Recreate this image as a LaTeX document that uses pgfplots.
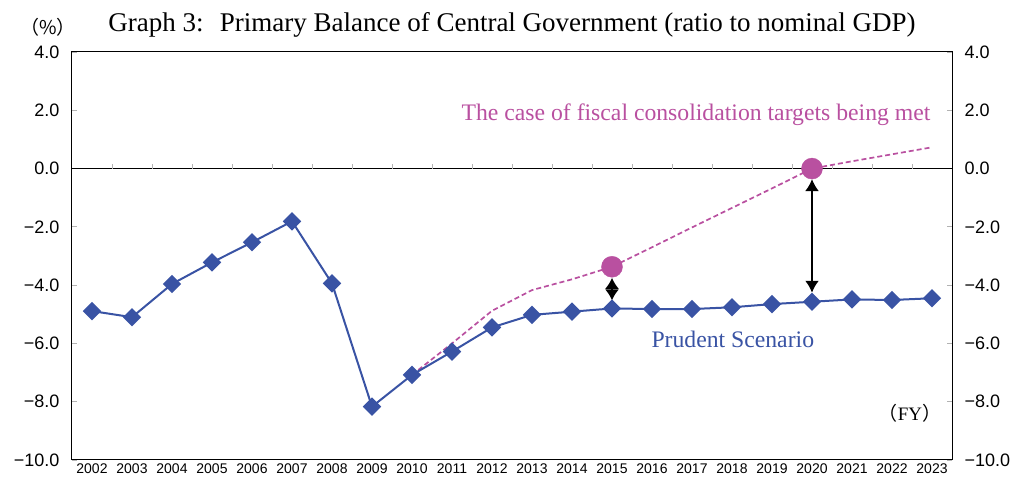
\documentclass[border=0pt]{standalone}
\usepackage{fontspec}
\setmainfont{Liberation Serif}
\newfontfamily\sans{Liberation Sans}
\newfontfamily\cjk{Noto Sans CJK JP}
\usepackage{pgfplots}
\usepackage{pgfplotstable}
\pgfplotsset{compat=1.18}
\usetikzlibrary{arrows.meta}

\definecolor{pblue}{RGB}{57,83,164}
\definecolor{pmag}{RGB}{185,80,160}

% prudent scenario
\pgfplotstableread{
year pb
2002 -4.89
2003 -5.10
2004 -3.96
2005 -3.22
2006 -2.53
2007 -1.81
2008 -3.94
2009 -8.17
2010 -7.08
2011 -6.28
2012 -5.45
2013 -5.02
2014 -4.91
2015 -4.80
2016 -4.82
2017 -4.82
2018 -4.76
2019 -4.65
2020 -4.57
2021 -4.49
2022 -4.51
2023 -4.45
}\prudent

% fiscal consolidation targets met
\pgfplotstableread{
year pb
2010 -7.08
2011 -6.00
2012 -4.88
2013 -4.17
2014 -3.80
2015 -3.37
2016 -2.70
2017 -2.02
2018 -1.35
2019 -0.68
2020 0.00
2021 0.25
2022 0.49
2023 0.73
}\target

\pgfplotstableread{
year pb
2015 -3.37
2020 0.00
}\points

\begin{document}
\begin{tikzpicture}
\useasboundingbox (-72pt,-27pt) rectangle (949pt,460pt);
\begin{axis}[
  at={(0,0)}, anchor=south west,
  scale only axis, width=880pt, height=408pt,
  xmin=-0.5, xmax=21.5, ymin=-10, ymax=4,
  xtick={0,...,21},
  xticklabels={2002,2003,2004,2005,2006,2007,2008,2009,2010,2011,2012,
    2013,2014,2015,2016,2017,2018,2019,2020,2021,2022,2023},
  xticklabel style={font=\sans\fontsize{14}{14}\selectfont},
  x tick style={draw=none},
  ytick={-10,-8,...,4},
  yticklabels={−10.0,−8.0,−6.0,−4.0,−2.0,0.0,2.0,4.0},
  yticklabel style={font=\sans\fontsize{18}{18}\selectfont, xshift=-9pt},
  ytick pos=both, yticklabel pos=left,
  tick align=inside, major tick length=5pt,
  y tick style={gray!60, line width=0.8pt},
  x axis line style={gray!45, line width=1.2pt},
  y axis line style={black, line width=1pt},
  clip=false,
]
\draw[black, line width=1pt] (axis cs:-0.5,0) -- (axis cs:21.5,0);
\pgfplotsinvokeforeach{0.5,1.5,...,20.5}{
  \draw[gray!60, line width=0.8pt] (axis cs:#1,0) -- ([yshift=5pt]axis cs:#1,0);
}

\addplot[pmag, line width=1.7pt, dash pattern=on 5pt off 3pt]
  table[x expr=\thisrow{year}-2002, y=pb]{\target};
\addplot[pblue, line width=2pt, mark=square*, mark size=5.5pt,
  mark options={rotate=45, solid}] table[x expr=\thisrow{year}-2002, y=pb]{\prudent};
\addplot[only marks, mark=*, mark size=10.5pt, pmag, mark options={draw=none, fill=pmag}]
  table[x expr=\thisrow{year}-2002, y=pb]{\points};

\draw[{Latex[length=11pt,width=14pt]}-{Latex[length=11pt,width=14pt]}, line width=1.8pt]
  ([yshift=-11pt]axis cs:13,-3.37) -- ([yshift=8pt]axis cs:13,-4.80);
\draw[{Latex[length=12pt,width=14pt]}-{Latex[length=12pt,width=14pt]}, line width=2pt]
  ([yshift=-10.5pt]axis cs:18,0) -- ([yshift=9pt]axis cs:18,-4.57);

\node[pmag, font=\fontsize{23.7}{23.7}\selectfont] at (axis cs:15.1,1.85)
  {The case of fiscal consolidation targets being met};
\node[pblue, font=\fontsize{23.7}{23.7}\selectfont] at (axis cs:16.02,-5.85)
  {Prudent Scenario};
\node[font=\fontsize{19}{19}\selectfont] at (axis cs:20.45,-8.39)
  {{\cjk（}FY{\cjk）}};

\node[anchor=base, font=\fontsize{27}{27}\selectfont] at ([yshift=20pt]rel axis cs:0.5,1)
  {Graph 3:\hspace{0.6em}Primary Balance of Central Government (ratio to nominal GDP)};
\node[font=\cjk\fontsize{19}{19}\selectfont] at ([xshift=-24pt,yshift=25pt]rel axis cs:0,1) {（\%）};
\end{axis}
\begin{axis}[
  at={(0,0)}, anchor=south west,
  scale only axis, width=880pt, height=408pt,
  xmin=-0.5, xmax=21.5, ymin=-10, ymax=4,
  xtick=\empty,
  ytick={-10,-8,...,4},
  yticklabels={−10.0,−8.0,−6.0,−4.0,−2.0,0.0,2.0,4.0},
  yticklabel style={font=\sans\fontsize{18}{18}\selectfont, xshift=9pt},
  yticklabel pos=right,
  axis line style={draw=none}, tick style={draw=none},
]
\end{axis}
\end{tikzpicture}
\end{document}
